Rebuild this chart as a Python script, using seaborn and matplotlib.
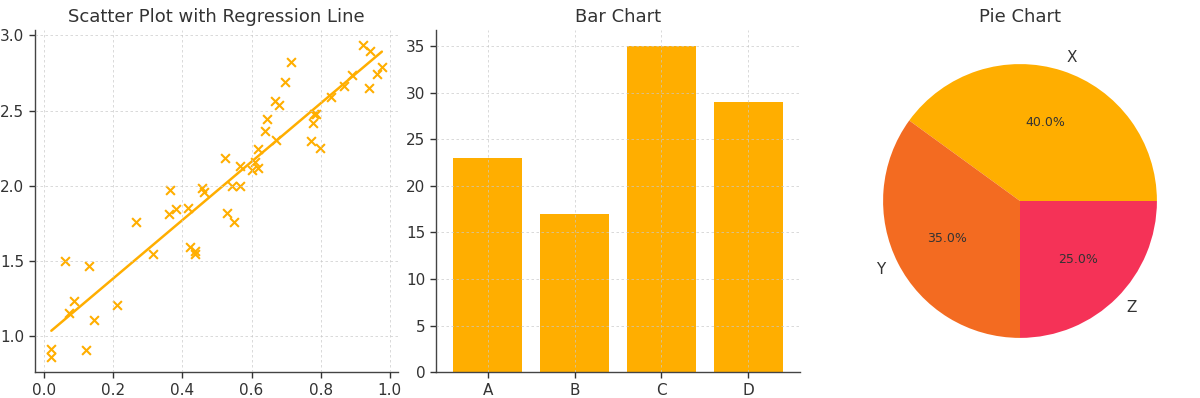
import seaborn as sns
import matplotlib.pyplot as plt
import pandas as pd

# scatter data
x_vals = [0.021, 0.021, 0.061, 0.073, 0.087, 0.120, 0.130, 0.144, 0.211, 0.266,
          0.316, 0.360, 0.365, 0.383, 0.416, 0.423, 0.437, 0.437, 0.457, 0.462,
          0.522, 0.529, 0.543, 0.548, 0.568, 0.568, 0.602, 0.611, 0.618, 0.618,
          0.640, 0.645, 0.667, 0.671, 0.680, 0.697, 0.714, 0.773, 0.778, 0.781,
          0.787, 0.798, 0.831, 0.868, 0.892, 0.923, 0.941, 0.943, 0.962, 0.977]
y_vals = [0.916, 0.865, 1.499, 1.154, 1.236, 0.911, 1.468, 1.108, 1.207, 1.757,
          1.550, 1.810, 1.970, 1.843, 1.854, 1.593, 1.565, 1.550, 1.987, 1.958,
          2.185, 1.818, 2.002, 1.757, 2.000, 2.132, 2.103, 2.161, 2.245, 2.117,
          2.368, 2.444, 2.565, 2.302, 2.538, 2.689, 2.821, 2.300, 2.421, 2.480,
          2.481, 2.252, 2.593, 2.666, 2.735, 2.934, 2.651, 2.894, 2.742, 2.792]

bar_cats = ['A', 'B', 'C', 'D']
bar_vals = [23, 17, 35, 29]

pie_labels = ['X', 'Y', 'Z']
pie_vals = [40, 35, 25]
pie_colors = ['#FFAE00', '#F36B21', '#F53257']

orange = '#FFAE00'
txt = '#333333'

sns.set_style('whitegrid', {'axes.edgecolor': '#444444'})
plt.rcParams['font.family'] = ['DejaVu Sans']

fig = plt.figure(figsize=(12, 3.98), dpi=100)
ax1 = fig.add_axes([0.029, 0.065, 0.303, 0.86])
ax2 = fig.add_axes([0.363, 0.065, 0.304, 0.86])
ax3 = fig.add_axes([0.70, 0.065, 0.30, 0.86])

df = pd.DataFrame({'x': x_vals, 'y': y_vals})
sns.regplot(data=df, x='x', y='y', ax=ax1, ci=None, marker='x', color=orange,
            scatter_kws={'s': 40, 'linewidths': 1.5, 'alpha': 1},
            line_kws={'linewidth': 1.8})
ax1.set_title('Scatter Plot with Regression Line', fontsize=13, color=txt)
ax1.set_xlabel('')
ax1.set_ylabel('')
ax1.set_xticks([0.0, 0.2, 0.4, 0.6, 0.8, 1.0])
ax1.set_yticks([1.0, 1.5, 2.0, 2.5, 3.0])

bdf = pd.DataFrame({'cat': bar_cats, 'val': bar_vals})
sns.barplot(data=bdf, x='cat', y='val', ax=ax2, color=orange, width=0.8,
            saturation=1, linewidth=0)
ax2.set_title('Bar Chart', fontsize=13, color=txt)
ax2.set_xlabel('')
ax2.set_ylabel('')
ax2.set_ylim(0, 36.75)
ax2.set_xlim(-0.6, 3.6)

for ax in (ax1, ax2):
    sns.despine(ax=ax)
    for s in ('left', 'bottom'):
        ax.spines[s].set_linewidth(1.0)
        ax.spines[s].set_color('#444444')
    ax.tick_params(axis='both', labelsize=11, colors=txt, length=4, width=1,
                   left=True, bottom=True)
    ax.set_axisbelow(False)
    ax.grid(True, linestyle=(0, (3, 3)), color='#c8c8c8', linewidth=0.6, alpha=0.8)

wedges, labels, pcts = ax3.pie(pie_vals, labels=pie_labels, colors=pie_colors,
                               autopct='%1.1f%%', startangle=0,
                               wedgeprops={'linewidth': 0},
                               textprops={'color': txt})
for t in labels:
    t.set_fontsize(11)
for t in pcts:
    t.set_fontsize(9)
ax3.set_title('Pie Chart', fontsize=13, color=txt)
ax3.set_aspect('equal')

fig.savefig('out.png', dpi=100)
